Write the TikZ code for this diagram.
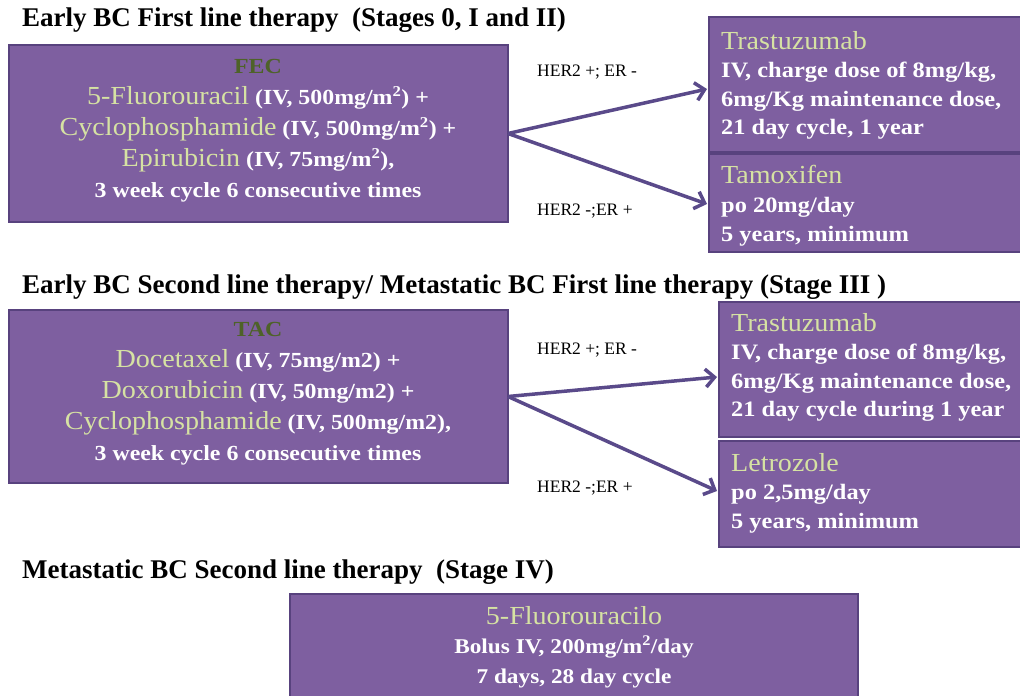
\documentclass[tikz,border=0pt]{standalone}
\usepackage{fontspec}
\setmainfont{Liberation Serif}
\newfontfamily\drugfont[FakeStretch=1.08]{Liberation Serif}
\newfontfamily\bodyfont[FakeStretch=1.11]{Liberation Serif}
\newfontfamily\labfont{Liberation Serif}
\usetikzlibrary{arrows.meta}
\definecolor{boxfill}{RGB}{126,95,160}
\definecolor{boxline}{RGB}{88,66,126}
\definecolor{drugc}{RGB}{214,226,163}
\definecolor{titlec}{RGB}{78,98,40}
\definecolor{arrowc}{RGB}{90,74,138}
\newcommand\drugname[2][26]{{\drugfont\mdseries\fontsize{#1}{31}\selectfont\color{drugc}#2}}
\newcommand\sqm{m\textsuperscript{2}}
\tikzset{
  box/.style={draw=boxline, line width=2.5pt, fill=boxfill, inner sep=0pt, outer sep=0pt, anchor=north west},
  ctext/.style={align=center, text=white, inner sep=0pt, anchor=base},
  ltext/.style={align=left, text=white, inner sep=0pt, anchor=base west},
  head/.style={font=\fontsize{27}{32}\selectfont\bfseries, anchor=base west, inner sep=0pt},
  lab/.style={font=\labfont\fontsize{17.5}{20}\selectfont, inner sep=0pt, anchor=west},
  conn/.style={draw=arrowc, line width=3.5pt, -{Straight Barb[length=9pt,width=18pt]}}
}
\begin{document}
\begin{tikzpicture}[x=1pt,y=-1pt]
\clip (0,0) rectangle (1020,696);
\fill[white] (0,0) rectangle (1020,696);

% headers
\node[head] (h1) at (22,27) {Early BC First line therapy\ \ (Stages 0, I and II)};
\node[head] (h2) at (22,293) {Early BC Second line therapy/ Metastatic BC First line therapy (Stage III )};
\node[head] (h3) at (22,578) {Metastatic BC Second line therapy\ \ (Stage IV)};

% boxes
\node[box, minimum width=499pt, minimum height=177pt] (fec) at (9,45) {};
\node[box, minimum width=330pt, minimum height=135pt] (tr1) at (709,17) {};
\node[box, minimum width=330pt, minimum height=98pt] (tam) at (709,154) {};
\node[box, minimum width=499pt, minimum height=173pt] (tac) at (9,310) {};
\node[box, minimum width=320pt, minimum height=135pt] (tr2) at (719,302) {};
\node[box, minimum width=320pt, minimum height=106pt] (let) at (719,441) {};
\node[box, minimum width=568pt, minimum height=120pt] (flu) at (290,594) {};

% box texts (base anchor = last line)
\node[ctext, font=\bodyfont\bfseries\fontsize{21.5}{31}\selectfont] (fectxt) at (258,197)
 {{\color{titlec}FEC}\\
  \drugname{5-Fluorouracil} (IV, 500mg/\sqm) +\\
  \drugname{Cyclophosphamide} (IV, 500mg/\sqm) +\\
  \drugname{Epirubicin} (IV, 75mg/\sqm),\\
  3 week cycle 6 consecutive times};
\node[ctext, font=\bodyfont\bfseries\fontsize{21.5}{31}\selectfont] (tactxt) at (258,460)
 {{\color{titlec}TAC}\\
  \drugname{Docetaxel} (IV, 75mg/m2) +\\
  \drugname{Doxorubicin} (IV, 50mg/m2) +\\
  \drugname{Cyclophosphamide} (IV, 500mg/m2),\\
  3 week cycle 6 consecutive times};
\node[ltext, font=\bodyfont\bfseries\fontsize{22}{28.5}\selectfont] (tr1txt) at (721,134.5)
 {\drugname{Trastuzumab}\\
  IV, charge dose of 8mg/kg,\\
  6mg/Kg maintenance dose,\\
  21 day cycle, 1 year};
\node[ltext, font=\bodyfont\bfseries\fontsize{22}{28.8}\selectfont] (tamtxt) at (721,241.5)
 {\drugname{Tamoxifen}\\
  po 20mg/day\\
  5 years, minimum};
\node[ltext, font=\bodyfont\bfseries\fontsize{22}{28.5}\selectfont] (tr2txt) at (731,416.5)
 {\drugname{Trastuzumab}\\
  IV, charge dose of 8mg/kg,\\
  6mg/Kg maintenance dose,\\
  21 day cycle during 1 year};
\node[ltext, font=\bodyfont\bfseries\fontsize{22}{28.5}\selectfont] (lettxt) at (731,528)
 {\drugname{Letrozole}\\
  po 2,5mg/day\\
  5 years, minimum};
\node[ctext, font=\bodyfont\bfseries\fontsize{21}{29.5}\selectfont] (flutxt) at (574,683)
 {\drugname{5-Fluorouracilo}\\
  Bolus IV, 200mg/\sqm/day\\
  7 days, 28 day cycle};

% connector ends
\coordinate (e1) at (707,89);
\coordinate (e2) at (707,204);
\coordinate (e3) at (717,377);
\coordinate (e4) at (717,491);

\draw[conn] (fec.east) -- (e1);
\draw[conn] (fec.east) -- (e2);
\draw[conn] (tac.east) -- (e3);
\draw[conn] (tac.east) -- (e4);

% labels
\node[lab] (l1) at (537,72) {HER2 +; ER -};
\node[lab] (l2) at (537,211) {HER2 -;ER +};
\node[lab] (l3) at (537,350) {HER2 +; ER -};
\node[lab] (l4) at (537,488) {HER2 -;ER +};
\end{tikzpicture}
\end{document}
